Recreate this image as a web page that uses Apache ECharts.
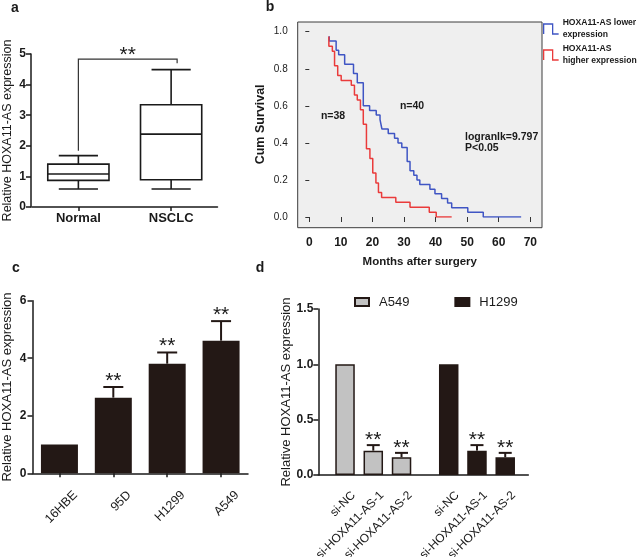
<!DOCTYPE html>
<html><head><meta charset="utf-8">
<script src="https://cdn.jsdelivr.net/npm/echarts@6/dist/echarts.min.js"></script>
<style>html,body{margin:0;padding:0;background:#fff;}#c{width:638px;height:557px;}</style>
</head><body><div id="c"></div>
<script>
// ---------- data ----------
// panel a : box plot [min, Q1, median, Q3, max]
const boxCategories = ['Normal', 'NSCLC'];
const normalBox = [0.59, 0.87, 1.08, 1.40, 1.68];
const nsclcBox = [0.59, 0.89, 2.38, 3.34, 4.49];
const bracketLevels = [1.84, 4.83, 4.70]; // left leg bottom, bar top, right leg bottom

// panel b : Kaplan-Meier steps (months, cumulative survival)
const lowerName = 'HOXA11-AS lower expression';
const higherName = 'HOXA11-AS higher expression';
const lowerTimes = [6.3, 6.3, 8.5, 9.3, 11.2, 14.0, 15.2, 17.1, 19.1, 21.2, 22.4, 23.0, 25.0, 27.0, 28.1, 29.3, 31.0, 31.9, 33.1, 34.1, 35.0, 38.2, 39.8, 41.9, 43.8, 45.1, 50.2, 55.1, 67.1];
const lowerSurv = [0.975, 0.95, 0.90, 0.875, 0.825, 0.775, 0.725, 0.60, 0.575, 0.55, 0.525, 0.475, 0.45, 0.425, 0.40, 0.375, 0.30, 0.25, 0.225, 0.20, 0.175, 0.15, 0.125, 0.10, 0.075, 0.05, 0.025, 0, 0];
const higherTimes = [6.2, 6.2, 7.3, 8.0, 9.0, 10.1, 13.3, 14.3, 15.2, 16.2, 17.1, 18.1, 19.2, 20.1, 21.1, 21.9, 22.9, 27.4, 31.9, 38.0, 40.2, 45.1];
const higherSurv = [0.974, 0.921, 0.895, 0.816, 0.763, 0.737, 0.711, 0.658, 0.632, 0.579, 0.50, 0.368, 0.316, 0.237, 0.184, 0.132, 0.105, 0.079, 0.053, 0.026, 0, 0];

// panel c : cell lines
const cellLines = ['16HBE', '95D', 'H1299', 'A549'];
const cellMeans = [1.00, 2.63, 3.81, 4.61];
const cellErr = [0, 0.37, 0.39, 0.68];
const cellSig = ['', '**', '**', '**'];

// panel d : knockdown
const siGroups = ['si-NC', 'si-HOXA11-AS-1', 'si-HOXA11-AS-2'];
const a549Means = [1.00, 0.22, 0.16];
const a549Err = [0, 0.05, 0.04];
const h1299Means = [1.00, 0.22, 0.16];
const h1299Err = [0, 0.05, 0.04];
const siSig = ['', '**', '**'];

// ---------- styles ----------
const FONT = '"Liberation Sans", Arial, sans-serif';
const INK = '#1a1a1a';
const BAR = '#231815';
const GREY = '#c2c2c2';
const BLUE = '#3f55c4';
const RED = '#ea3b3b';

const chart = echarts.init(document.getElementById('c'));

function axisLine(w) { return {show: true, lineStyle: {color: INK, width: w || 1.5}}; }
function axisTick(len) { return {show: true, length: len, lineStyle: {color: INK, width: 1.5}}; }

function errRenderer(sig, capW, starLift) {
  return function (params, api) {
    const i = params.dataIndex;
    const x = api.coord([api.value(0), 0])[0];
    const yTop = api.coord([api.value(0), api.value(1)])[1];
    const yErr = api.coord([api.value(0), api.value(2)])[1];
    const ch = [];
    if (api.value(2) > api.value(1)) {
      ch.push({type: 'line', shape: {x1: x, y1: yTop, x2: x, y2: yErr}, style: {stroke: BAR, lineWidth: 2}});
      ch.push({type: 'line', shape: {x1: x - capW / 2, y1: yErr, x2: x + capW / 2, y2: yErr}, style: {stroke: BAR, lineWidth: 2}});
    }
    if (sig[i]) {
      ch.push({type: 'text', x: x, y: yErr - starLift, style: {text: sig[i], fill: INK, fontSize: 21, fontFamily: FONT, align: 'center', verticalAlign: 'middle'}});
    }
    return {type: 'group', children: ch};
  };
}

function boxRenderer(params, api) {
  const c = api.value(0);
  const x = api.coord([c, 0])[0];
  const band = api.size([1, 0])[0];
  const bw = band * 0.66, cw = bw * 0.64;
  const y = k => api.coord([c, api.value(k)])[1];
  const st = {stroke: INK, lineWidth: 1.6, fill: null};
  return {type: 'group', children: [
    {type: 'rect', shape: {x: x - bw / 2, y: y(4), width: bw, height: y(2) - y(4)}, style: {stroke: INK, lineWidth: 1.6, fill: '#fff'}},
    {type: 'line', shape: {x1: x - bw / 2, y1: y(3), x2: x + bw / 2, y2: y(3)}, style: st},
    {type: 'line', shape: {x1: x, y1: y(4), x2: x, y2: y(5)}, style: st},
    {type: 'line', shape: {x1: x, y1: y(2), x2: x, y2: y(1)}, style: st},
    {type: 'line', shape: {x1: x - cw / 2, y1: y(5), x2: x + cw / 2, y2: y(5)}, style: st},
    {type: 'line', shape: {x1: x - cw / 2, y1: y(1), x2: x + cw / 2, y2: y(1)}, style: st}
  ]};
}

function bracketRenderer(params, api) {
  const xl = api.coord([api.value(0), 0])[0];
  const xr = api.coord([api.value(3), 0])[0] + 6;
  const yb = api.coord([0, api.value(1)])[1];
  const yt = api.coord([0, api.value(2)])[1];
  const yr = api.coord([0, api.value(4)])[1];
  return {type: 'group', children: [
    {type: 'polyline', shape: {points: [[xl, yb], [xl, yt], [xr, yt], [xr, yr]]}, style: {stroke: '#333', lineWidth: 1.2, fill: null}},
    {type: 'text', x: (xl + xr) / 2, y: yt - 4, style: {text: '**', fill: INK, fontSize: 21, fontFamily: FONT, align: 'center', verticalAlign: 'middle'}}
  ]};
}

const stepIcon = 'path://M0,10L0,0L9,0L9,10L15,10';
const NB = 'none';

const option = {
  animation: false,
  textStyle: {fontFamily: FONT},
  grid: [
    {left: 32, top: 54, width: 185.5, height: 153, outerBoundsMode: NB},
    {left: 309.3, top: 31.7, width: 221, height: 185.3, outerBoundsMode: NB},
    {left: 32.5, top: 300.7, width: 215.5, height: 172.6, outerBoundsMode: NB},
    {left: 318.3, top: 309, width: 210, height: 166, outerBoundsMode: NB},
    {left: 330.9, top: 309, width: 84.75, height: 166, outerBoundsMode: NB},
    {left: 434.6, top: 309, width: 84.75, height: 166, outerBoundsMode: NB}
  ],
  xAxis: [
    {gridIndex: 0, type: 'category', data: boxCategories, axisLine: axisLine(1.5), axisTick: Object.assign(axisTick(4), {alignWithLabel: true}),
      axisLabel: {color: INK, fontSize: 13, fontWeight: 'bold', margin: 5}},
    {gridIndex: 1, type: 'value', min: 0, max: 70, interval: 10, offset: 10.7, axisLine: {show: false},
      axisTick: {show: true, length: 5, lineStyle: {color: '#333', width: 1}}, splitLine: {show: false},
      axisLabel: {color: INK, fontSize: 12, fontWeight: 'bold', margin: 9},
      name: 'Months after surgery', nameLocation: 'middle', nameGap: 28, nameTextStyle: {color: INK, fontSize: 11.5, fontWeight: 'bold'}},
    {gridIndex: 2, type: 'category', data: cellLines, axisLine: axisLine(1.5), axisTick: Object.assign(axisTick(4), {alignWithLabel: true}),
      axisLabel: {color: INK, fontSize: 12.5, rotate: 45, align: 'right', verticalAlign: 'top', padding: [16, 0, 0, 0], margin: 4}},
    {gridIndex: 3, type: 'category', data: [''], axisLine: axisLine(1.5), axisTick: {show: false}, axisLabel: {show: false}},
    {gridIndex: 4, type: 'category', data: siGroups, axisLine: {show: false}, axisTick: {show: false},
      axisLabel: {color: INK, fontSize: 12, rotate: 45, align: 'right', verticalAlign: 'top', padding: [6, 0, 0, 0], margin: 10, interval: 0}},
    {gridIndex: 5, type: 'category', data: siGroups, axisLine: {show: false}, axisTick: {show: false},
      axisLabel: {color: INK, fontSize: 12, rotate: 45, align: 'right', verticalAlign: 'top', padding: [6, 0, 0, 0], margin: 10, interval: 0}}
  ],
  yAxis: [
    {gridIndex: 0, type: 'value', min: 0, max: 5, interval: 1, offset: 1, axisLine: axisLine(1.5), axisTick: axisTick(5), splitLine: {show: false},
      axisLabel: {color: INK, fontSize: 12, fontWeight: 'bold', margin: 5},
      name: 'Relative HOXA11-AS expression', nameLocation: 'middle', nameGap: 17, nameTextStyle: {color: INK, fontSize: 12.5}},
    {gridIndex: 1, type: 'value', min: 0, max: 1, interval: 0.2, offset: 11.6, axisLine: {show: false},
      axisTick: {show: true, length: 4, lineStyle: {color: '#333', width: 1}}, splitLine: {show: false},
      axisLabel: {color: INK, fontSize: 10, margin: 10, formatter: v => v.toFixed(1)},
      name: 'Cum Survival', nameLocation: 'middle', nameGap: 31, nameTextStyle: {color: INK, fontSize: 12.5, fontWeight: 'bold'}},
    {gridIndex: 2, type: 'value', min: 0, max: 6, interval: 2, axisLine: axisLine(1.5), axisTick: axisTick(5), splitLine: {show: false},
      axisLabel: {color: INK, fontSize: 12, fontWeight: 'bold', margin: 6},
      name: 'Relative HOXA11-AS expression', nameLocation: 'middle', nameGap: 19, nameTextStyle: {color: INK, fontSize: 13}},
    {gridIndex: 3, type: 'value', min: 0, max: 1.5, interval: 0.5, axisLine: axisLine(1.5), axisTick: axisTick(5), splitLine: {show: false},
      axisLabel: {color: INK, fontSize: 12, fontWeight: 'bold', margin: 5, formatter: v => v.toFixed(1)},
      name: 'Relative HOXA11-AS expression', nameLocation: 'middle', nameGap: 25, nameTextStyle: {color: INK, fontSize: 13}},
    {gridIndex: 4, type: 'value', min: 0, max: 1.5, show: false},
    {gridIndex: 5, type: 'value', min: 0, max: 1.5, show: false}
  ],
  legend: [
    {data: [
        {name: lowerName, icon: stepIcon, itemStyle: {color: 'transparent', borderColor: BLUE, borderWidth: 1.3}},
        {name: higherName, icon: stepIcon, itemStyle: {color: 'transparent', borderColor: RED, borderWidth: 1.3}}],
      orient: 'vertical', left: 543, top: 17, padding: 0,
      itemWidth: 15, itemHeight: 10, itemGap: 2, selectedMode: false,
      formatter: n => n === lowerName ? 'HOXA11-AS lower\nexpression' : 'HOXA11-AS\nhigher expression',
      textStyle: {color: INK, fontSize: 8.6, fontWeight: 'bold', lineHeight: 12, fontFamily: FONT, padding: [0, 0, 0, -1]}},
    {data: ['A549', 'H1299'], left: 354, top: 295.5, padding: 0, itemWidth: 14, itemHeight: 8, itemGap: 45, icon: 'rect', selectedMode: false,
      textStyle: {color: INK, fontSize: 13, fontFamily: FONT, padding: [0, 0, 0, 5]}}
  ],
  graphic: [
    {type: 'rect', z: -10, shape: {x: 297.7, y: 22, width: 244.3, height: 205.7}, style: {fill: '#efefef', stroke: '#3c3c3c', lineWidth: 1}},
    {type: 'text', x: 15, y: 8, style: {text: 'a', fill: INK, fontSize: 14, fontWeight: 'bold', fontFamily: FONT, align: 'center', verticalAlign: 'middle'}},
    {type: 'text', x: 270, y: 7, style: {text: 'b', fill: INK, fontSize: 14, fontWeight: 'bold', fontFamily: FONT, align: 'center', verticalAlign: 'middle'}},
    {type: 'text', x: 16, y: 268, style: {text: 'c', fill: INK, fontSize: 14, fontWeight: 'bold', fontFamily: FONT, align: 'center', verticalAlign: 'middle'}},
    {type: 'text', x: 260, y: 268, style: {text: 'd', fill: INK, fontSize: 14, fontWeight: 'bold', fontFamily: FONT, align: 'center', verticalAlign: 'middle'}},
    {type: 'text', x: 333, y: 116, style: {text: 'n=38', fill: INK, fontSize: 10.5, fontWeight: 'bold', fontFamily: FONT, align: 'center', verticalAlign: 'middle'}},
    {type: 'text', x: 412, y: 106, style: {text: 'n=40', fill: INK, fontSize: 10.5, fontWeight: 'bold', fontFamily: FONT, align: 'center', verticalAlign: 'middle'}},
    {type: 'text', x: 465, y: 137, style: {text: 'logranlk=9.797', fill: INK, fontSize: 10.5, fontWeight: 'bold', fontFamily: FONT, align: 'left', verticalAlign: 'middle'}},
    {type: 'text', x: 465, y: 148.5, style: {text: 'P<0.05', fill: INK, fontSize: 10.5, fontWeight: 'bold', fontFamily: FONT, align: 'left', verticalAlign: 'middle'}}
  ],
  series: [
    // panel a
    {type: 'custom', xAxisIndex: 0, yAxisIndex: 0, renderItem: boxRenderer, clip: false,
      data: [[0].concat(normalBox), [1].concat(nsclcBox)]},
    {type: 'custom', xAxisIndex: 0, yAxisIndex: 0, renderItem: bracketRenderer, clip: false,
      data: [[0, bracketLevels[0], bracketLevels[1], 1, bracketLevels[2]]]},
    // panel b
    {name: lowerName, type: 'line', xAxisIndex: 1, yAxisIndex: 1, step: 'end', showSymbol: false, symbol: 'none',
      color: BLUE, lineStyle: {color: BLUE, width: 1.5}, data: lowerTimes.map((t, i) => [t, lowerSurv[i]])},
    {name: higherName, type: 'line', xAxisIndex: 1, yAxisIndex: 1, step: 'end', showSymbol: false, symbol: 'none',
      color: RED, lineStyle: {color: RED, width: 1.5}, data: higherTimes.map((t, i) => [t, higherSurv[i]])},
    // panel c
    {type: 'bar', xAxisIndex: 2, yAxisIndex: 2, barWidth: 37, itemStyle: {color: BAR}, data: cellMeans},
    {type: 'custom', xAxisIndex: 2, yAxisIndex: 2, clip: false, renderItem: errRenderer(cellSig, 20, 6), z: 5,
      data: cellLines.map((c, i) => [i, cellMeans[i], cellMeans[i] + cellErr[i]])},
    // panel d
    {name: 'A549', type: 'bar', xAxisIndex: 4, yAxisIndex: 4, barWidth: 19.5, itemStyle: {color: GREY, borderColor: BAR, borderWidth: 1.5}, data: a549Means},
    {type: 'custom', xAxisIndex: 4, yAxisIndex: 4, clip: false, renderItem: errRenderer(siSig, 13, 5), z: 5,
      data: siGroups.map((c, i) => [i, a549Means[i], a549Means[i] + a549Err[i]])},
    {name: 'H1299', type: 'bar', xAxisIndex: 5, yAxisIndex: 5, barWidth: 19.5, itemStyle: {color: BAR, borderColor: BAR, borderWidth: 1.5}, data: h1299Means},
    {type: 'custom', xAxisIndex: 5, yAxisIndex: 5, clip: false, renderItem: errRenderer(siSig, 13, 5), z: 5,
      data: siGroups.map((c, i) => [i, h1299Means[i], h1299Means[i] + h1299Err[i]])}
  ]
};
chart.setOption(option);
</script>
</body></html>
